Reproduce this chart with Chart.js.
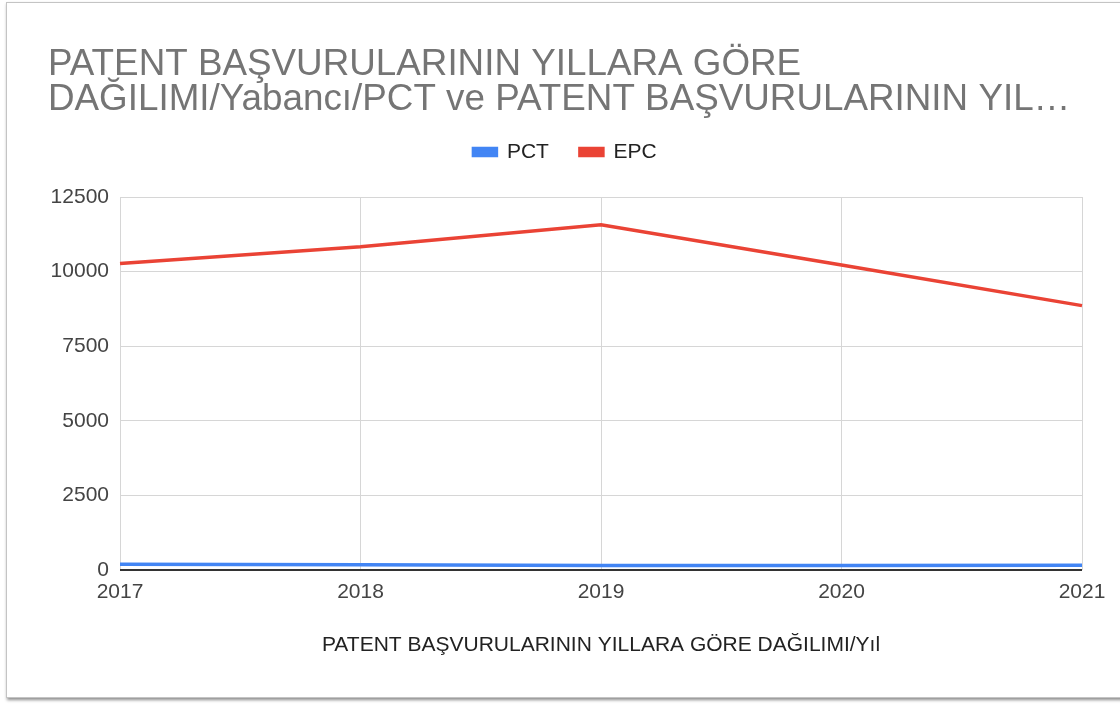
<!DOCTYPE html>
<html>
<head>
<meta charset="utf-8">
<script src="https://cdn.jsdelivr.net/npm/chart.js@4.4.1/dist/chart.umd.min.js"></script>
<style>
  html, body { margin: 0; padding: 0; background: #ffffff; width: 1120px; height: 704px; overflow: hidden; }
  #frame { position: absolute; left: 6px; top: 2px; width: 1200px; height: 694px; background: #fff;
           border: 1px solid #c4c4c4; box-shadow: 1px 2px 3px rgba(0,0,0,0.45); }
  #wrap { position: absolute; left: 0; top: 0; width: 1120px; height: 704px; }
</style>
</head>
<body>
<div id="frame"></div>
<div id="wrap"><canvas id="c" width="1120" height="704"></canvas></div>
<script>
const years = ['2017', '2018', '2019', '2020', '2021'];
const pctValues = [190, 175, 150, 150, 160];
const epcValues = [10270, 10830, 11570, 10220, 8860];
const yTickValues = [0, 2500, 5000, 7500, 10000, 12500];
const titleLines = ['PATENT BAŞVURULARININ YILLARA GÖRE', 'DAĞILIMI/Yabancı/PCT ve PATENT BAŞVURULARININ YIL…'];
const xAxisTitle = 'PATENT BAŞVURULARININ YILLARA GÖRE DAĞILIMI/Yıl';

const FONT = "Arial, 'Liberation Sans', sans-serif";

new Chart(document.getElementById('c'), {
  type: 'line',
  data: {
    labels: years,
    datasets: [
      { label: 'PCT', data: pctValues, borderColor: '#4285F4', backgroundColor: '#4285F4',
        borderWidth: 3.5, pointRadius: 0, tension: 0 },
      { label: 'EPC', data: epcValues, borderColor: '#EA4335', backgroundColor: '#EA4335',
        borderWidth: 3.5, pointRadius: 0, tension: 0 }
    ]
  },
  options: {
    responsive: false,
    animation: false,
    layout: { padding: { left: 48, right: 38, top: 0, bottom: 46.4 } },
    plugins: {
      title: {
        display: true, text: titleLines, align: 'start', color: '#757575',
        font: { family: FONT, size: 36.8, weight: 'normal', lineHeight: 35 / 36.8 },
        padding: { top: 47.5, bottom: -7 }
      },
      subtitle: {
        display: true, text: '', weight: 500,
        font: { family: FONT, size: 10, lineHeight: 1 },
        padding: { top: 14.5, bottom: 0 }
      },
      legend: {
        display: true, position: 'top', align: 'center',
        labels: {
          boxWidth: 23, boxHeight: 7, padding: 31, color: '#222',
          font: { family: FONT, size: 21 }
        }
      },
      tooltip: { enabled: false }
    },
    scales: {
      x: {
        type: 'category', offset: false,
        grid: { color: '#d6d6d6', lineWidth: 1, drawTicks: false },
        border: { display: false },
        ticks: { color: '#444', padding: 10, font: { family: FONT, size: 21 }, maxRotation: 0, autoSkip: false },
        title: { display: true, text: xAxisTitle, color: '#222',
                 font: { family: FONT, size: 21 }, padding: { top: 17.2, bottom: 0 } }
      },
      y: {
        min: yTickValues[0], max: yTickValues[yTickValues.length - 1],
        afterBuildTicks: (s) => { s.ticks = yTickValues.map(v => ({ value: v })); },
        afterFit: (s) => { s.width = 72; },
        grid: {
          drawTicks: false,
          color: (c) => (c.tick && c.tick.value === 0) ? '#333333' : '#d6d6d6',
          lineWidth: (c) => (c.tick && c.tick.value === 0) ? 2 : 1
        },
        border: { display: false },
        ticks: { color: '#444', padding: 11, font: { family: FONT, size: 21 },
                 callback: (v) => String(v) }
      }
    }
  }
});
</script>
</body>
</html>
